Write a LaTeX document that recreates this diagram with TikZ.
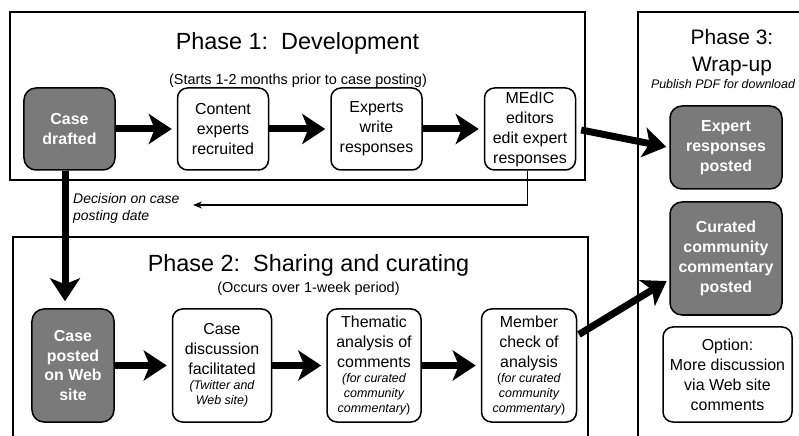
\documentclass[tikz,border=0pt]{standalone}
\usepackage{fontspec}
\setmainfont{Liberation Sans}
\usetikzlibrary{arrows.meta, positioning}
\newcommand{\sidetext}{\itshape\fontsize{12.5}{15}\selectfont}

\begin{document}
\begin{tikzpicture}[x=1bp, y=-1bp, node distance=60bp,
    stage/.style={rectangle, rounded corners=10bp, draw=black, line width=1.5bp, fill=white,
                  align=center, inner sep=2bp, font=\fontsize{16}{20}\selectfont,
                  minimum width=91bp, minimum height=82bp},
    posted/.style={stage, rounded corners=12bp, fill=black!52, text=white,
                   font=\bfseries\fontsize{16}{20}\selectfont},
    phase/.style={draw=black, line width=1.2bp},
    title/.style={font=\fontsize{23.5}{28}\selectfont, anchor=base},
    subtitle/.style={font=\fontsize{14.5}{17}\selectfont, anchor=base},
    aside/.style={font=\itshape\fontsize{14}{17}\selectfont},
    arrow/.style={-{Stealth[length=23bp, width=30bp, inset=6bp]}, line width=7bp},
    thinarrow/.style={-{Stealth[length=9bp, width=7bp]}, line width=1.3bp}]

    \clip (0,0) rectangle (799,436);

    % Phase frames
    \draw[phase] (10,12) rectangle (585,180);
    \draw[phase] (13,237) rectangle (588,445);
    \draw[phase] (638,12) rectangle (820,445);

    % Titles
    \node[title] (p1title) at (297.5,50) {Phase 1:\ \ Development};
    \node[subtitle] (p1sub) at (298,85) {(Starts 1-2 months prior to case posting)};
    \node[title] (p2title) at (308.5,272) {Phase 2:\ \ Sharing and curating};
    \node[subtitle] (p2sub) at (308.5,293) {(Occurs over 1-week period)};
    \node[title, anchor=north, align=center, font=\fontsize{21}{27}\selectfont, inner sep=0pt]
        (p3title) at (732,29.5) {Phase 3:\\Wrap-up};
    \node[aside, font=\itshape\fontsize{12.5}{15}\selectfont, anchor=base] (p3sub) at (723,89)
        {Publish PDF for download};

    % Phase 1 nodes
    \node[posted] (drafted) at (69.5,129) {Case\\drafted};
    \node[stage, right=61bp of drafted] (recruited) {Content\\experts\\recruited};
    \node[stage, right=61bp of recruited] (write) {Experts\\write\\responses};
    \node[stage, right=61bp of write] (edit) {MEdIC\\editors\\edit expert\\responses};

    % Phase 2 nodes
    \node[posted, minimum width=82bp, minimum height=113bp] (webpost) at (73,365.5)
        {Case\\posted\\on Web\\site};
    \node[stage, minimum width=99bp, minimum height=113bp, right=57bp of webpost] (discuss)
        {Case\\discussion\\facilitated\\[-5bp]{\sidetext (Twitter and}\\[-5bp]{\sidetext Web site)}};
    \node[stage, minimum width=94bp, minimum height=113bp, right=54bp of discuss] (thematic)
        {Thematic\\analysis of\\comments\\[-4bp]{\sidetext (for curated}\\[-5bp]{\sidetext community}\\[-5bp]{\sidetext commentary\upshape)}};
    \node[stage, minimum width=95bp, minimum height=113bp, right=59bp of thematic] (member)
        {Member\\check of\\analysis\\[-4bp]{\fontsize{12.5}{15}\selectfont(\textit{for curated}}\\[-5bp]{\sidetext community}\\[-5bp]{\sidetext commentary\upshape)}};

    % Phase 3 nodes
    \node[posted, minimum width=112bp, minimum height=83bp] (exppost) at (726,147.5)
        {Expert\\responses\\posted};
    \node[posted, minimum width=112bp, minimum height=113bp] (curated) at (726,258.5)
        {Curated\\community\\commentary\\posted};
    \node[stage, minimum width=129bp, minimum height=95bp] (option) at (727.5,374.5)
        {Option:\\More discussion\\via Web site\\comments};

    % Arrows
    \draw[arrow, shorten >=5bp] (drafted) -- (recruited);
    \draw[arrow, shorten >=5bp] (recruited) -- (write);
    \draw[arrow, shorten >=5bp] (write) -- (edit);
    \draw[arrow, shorten >=5bp] (webpost) -- (discuss);
    \draw[arrow, shorten >=5bp] (discuss) -- (thematic);
    \draw[arrow, shorten >=5bp] (thematic) -- (member);
    \draw[arrow, shorten <=5bp, shorten >=3bp] (edit.east) -- (exppost.west);
    \draw[arrow, shorten <=2bp, shorten >=3bp] ([yshift=30bp]member.east) -- ([yshift=-21bp]curated.west);
    \draw[arrow, shorten >=7bp] ([xshift=-4.5bp]drafted.south) -- ([xshift=-4.5bp]drafted.south |- webpost.north);

    % Posting date feedback
    \coordinate (decision) at (193,205);
    \draw[thinarrow] ([xshift=-2.5bp]edit.south) |- (decision);
    \node[aside, anchor=north west, align=left, inner sep=0pt] (decisionlbl) at (73,193)
        {Decision on case\\posting date};

\end{tikzpicture}
\end{document}
